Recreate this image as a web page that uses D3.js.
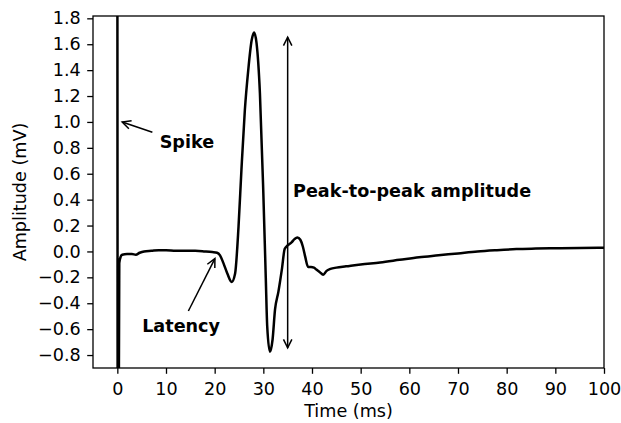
<!DOCTYPE html>
<html>
<head>
<meta charset="utf-8">
<script src="https://cdn.jsdelivr.net/npm/d3@7"></script>
<style>
  html, body { margin: 0; padding: 0; background: #fff; }
  svg { display: block; font-family: "DejaVu Sans", sans-serif; }
</style>
</head>
<body>
<svg id="chart" width="621" height="423"></svg>
<script>
// ---- data ----
const timeMs = [0, 0.12, 0.4, 0.7, 1.0, 2.0, 3.0, 3.8, 4.6, 5.5, 7, 8.5, 10, 12, 14, 16, 18, 19.5, 20.5, 21.1, 21.8, 22.6, 23.5, 24.2, 24.9, 25.5, 26.2, 26.9, 27.6, 28.1, 28.6, 29.3, 30.0, 30.5, 30.8, 31.35, 31.9, 32.4, 33.1, 33.8, 34.4, 35.1, 35.8, 36.4, 37.0, 37.6, 38.1, 38.6, 39.2, 39.8, 40.4, 40.9, 41.6, 42.3, 43.0, 43.8, 45.0, 47, 50, 54, 58, 62, 66, 70, 74, 78, 82, 86, 90, 95, 100];
const amplitudeMv = [3.0, -3.0, -0.09, -0.04, -0.025, -0.02, -0.02, -0.025, -0.01, 0.0, 0.005, 0.01, 0.01, 0.005, 0.005, 0.005, 0.0, -0.005, -0.01, -0.03, -0.09, -0.17, -0.235, -0.17, 0.19, 0.63, 1.09, 1.40, 1.63, 1.69, 1.61, 1.22, 0.45, -0.20, -0.58, -0.775, -0.68, -0.45, -0.31, -0.14, 0.02, 0.05, 0.07, 0.095, 0.108, 0.09, 0.04, -0.04, -0.12, -0.12, -0.125, -0.14, -0.16, -0.18, -0.15, -0.135, -0.125, -0.115, -0.1, -0.085, -0.065, -0.045, -0.03, -0.015, 0.0, 0.01, 0.018, 0.022, 0.025, 0.027, 0.028];

const xTicks = [0, 10, 20, 30, 40, 50, 60, 70, 80, 90, 100];
const yTicks = [-0.8, -0.6, -0.4, -0.2, 0.0, 0.2, 0.4, 0.6, 0.8, 1.0, 1.2, 1.4, 1.6, 1.8];
const xDomain = [-5, 100];
const yDomain = [-0.9, 1.818];

// annotations: label, text anchor point (left, middle), arrow tail, arrow tip
const annoLabels = ["Spike", "Latency", "Peak-to-peak amplitude"];
const annoTextPos = [[8.7, 0.845], [5.1, -0.574], [36.1, 0.466]];
const annoTail = [[7.2, 0.92], [14.6, -0.46], null];
const annoTip = [[1.0, 1.0], [20.05, -0.055], null];
const p2pTime = 35;
const p2pRange = [1.68, -0.77];

// ---- layout ----
const W = 621, H = 423;
const margin = {left: 93, right: 17, top: 16, bottom: 55};
const svg = d3.select("#chart");
const x = d3.scaleLinear().domain(xDomain).range([margin.left, W - margin.right]);
const y = d3.scaleLinear().domain(yDomain).range([H - margin.bottom, margin.top]);
const fs = 17.6;

svg.append("defs").append("clipPath").attr("id", "clip")
  .append("rect").attr("x", margin.left).attr("y", margin.top)
  .attr("width", W - margin.left - margin.right).attr("height", H - margin.top - margin.bottom);

// signal
const data = timeMs.map((t, i) => [t, amplitudeMv[i]]);
svg.append("path")
  .datum(data)
  .attr("clip-path", "url(#clip)")
  .attr("fill", "none")
  .attr("stroke", "#000")
  .attr("stroke-width", 2.5)
  .attr("stroke-linejoin", "round")
  .attr("d", d3.line().x(d => x(d[0])).y(d => y(d[1])).curve(d3.curveMonotoneX));

// axes
const xAxis = svg.append("g").attr("transform", `translate(0,${H - margin.bottom})`)
  .call(d3.axisBottom(x).tickValues(xTicks).tickFormat(d3.format("d")).tickSize(5.8).tickPadding(8.5));
const yAxis = svg.append("g").attr("transform", `translate(${margin.left},0)`)
  .call(d3.axisLeft(y).tickValues(yTicks).tickFormat(d3.format(".1f")).tickSize(5.8).tickPadding(6.5));
[xAxis, yAxis].forEach(g => {
  g.select(".domain").remove();
  g.selectAll(".tick line").attr("stroke", "#000").attr("stroke-width", 1.3);
  g.selectAll(".tick text").attr("fill", "#000").style("font-size", fs + "px").style("font-family", "DejaVu Sans");
});

// frame
svg.append("rect")
  .attr("x", margin.left).attr("y", margin.top)
  .attr("width", W - margin.left - margin.right).attr("height", H - margin.top - margin.bottom)
  .attr("fill", "none").attr("stroke", "#000").attr("stroke-width", 1.3);

// axis labels
svg.append("text").attr("x", (margin.left + W - margin.right) / 2).attr("y", 417)
  .attr("text-anchor", "middle").style("font-size", fs + "px").text("Time (ms)");
svg.append("text").attr("transform", `translate(26,${(margin.top + H - margin.bottom) / 2}) rotate(-90)`)
  .attr("text-anchor", "middle").style("font-size", fs + "px").text("Amplitude (mV)");

// arrow heads
function head(px, py, fromX, fromY) {
  const ang = Math.atan2(py - fromY, px - fromX);
  const L = 8.5, Wd = 4.2;
  const bx = px - L * Math.cos(ang), by = py - L * Math.sin(ang);
  const nx = -Math.sin(ang), ny = Math.cos(ang);
  return `M${bx + Wd * nx},${by + Wd * ny}L${px},${py}L${bx - Wd * nx},${by - Wd * ny}`;
}
const ag = svg.append("g").attr("fill", "none").attr("stroke", "#000").attr("stroke-width", 1.5);
annoLabels.forEach((lab, i) => {
  svg.append("text").attr("x", x(annoTextPos[i][0])).attr("y", y(annoTextPos[i][1]))
    .attr("dy", "0.36em").style("font-size", fs + "px").style("font-weight", "bold").text(lab);
  if (annoTail[i]) {
    const tx = x(annoTail[i][0]), ty = y(annoTail[i][1]);
    const px = x(annoTip[i][0]), py = y(annoTip[i][1]);
    ag.append("path").attr("d", `M${tx},${ty}L${px},${py}`);
    ag.append("path").attr("d", head(px, py, tx, ty));
  }
});
// peak-to-peak double arrow
{
  const px = x(p2pTime);
  const y1 = y(p2pRange[0]) + 3.3, y2 = y(p2pRange[1]) - 3.3;
  ag.append("path").attr("d", `M${px},${y1}L${px},${y2}`);
  ag.append("path").attr("d", head(px, y1, px, y2));
  ag.append("path").attr("d", head(px, y2, px, y1));
}
</script>
</body>
</html>
